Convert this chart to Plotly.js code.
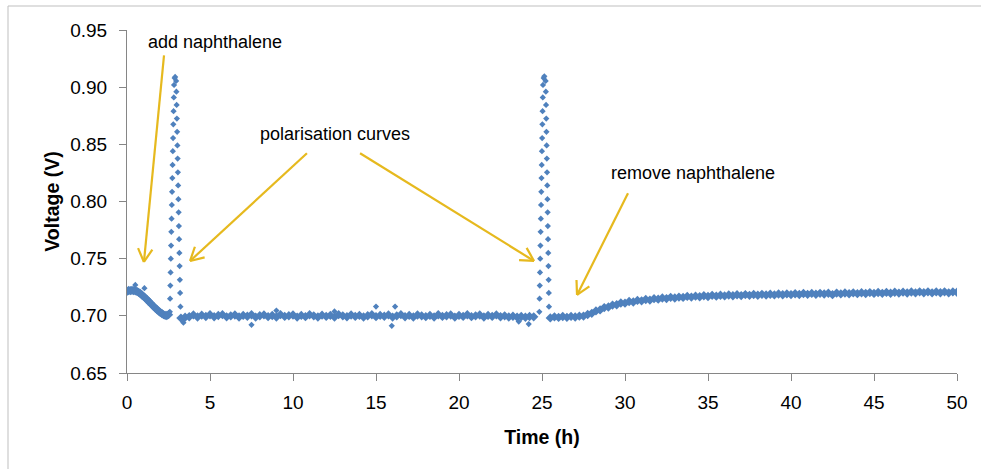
<!DOCTYPE html>
<html>
<head>
<meta charset="utf-8">
<script src="https://cdn.plot.ly/plotly-3.0.1.min.js"></script>
<style>html,body{margin:0;padding:0;background:#fff;}#chart{width:981px;height:469px;}</style>
</head>
<body>
<div id="chart"></div>
<script>
// ---- Data ----
// start of run, before the first polarisation curve
const startT = [0,0.1,0.2,0.3,0.4,0.5,0.6,0.7,0.8,0.9,1.0,1.1,1.2,1.3,1.4,1.5,1.6,1.7,1.8,1.9,2.0,2.1,2.2,2.3,2.4,2.5];
const startV = [0.7215,0.7222,0.7220,0.7223,0.7221,0.7219,0.7214,0.7205,0.7195,0.7182,0.7170,0.7157,0.7143,0.7128,0.7113,0.7098,0.7083,0.7068,0.7055,0.7042,0.7030,0.7020,0.7010,0.7004,0.7003,0.7010];

// first polarisation curve
const spike1T = [2.58,2.595,2.61,2.625,2.64,2.655,2.67,2.685,2.70,2.715,2.73,2.745,2.76,2.775,2.79,2.805,2.82,2.835,2.87,2.90,
                 2.96,2.975,2.99,3.005,3.02,3.035,3.05,3.065,3.08,3.095,3.11,3.125,3.14,3.155,3.17,3.185,3.20,3.22];
const spike1V = [0.7035,0.7150,0.7265,0.7380,0.7500,0.7615,0.7735,0.7850,0.7970,0.8085,0.8205,0.8320,0.8440,0.8555,0.8675,0.8790,0.8910,0.9020,0.9080,0.9090,
                 0.9055,0.8960,0.8845,0.8725,0.8610,0.8490,0.8375,0.8255,0.8140,0.8020,0.7905,0.7785,0.7670,0.7550,0.7435,0.7315,0.7200,0.7080];

// stable period at about 0.700 V
const midT = [3.25,3.5,3.75,4,4.25,4.5,4.75,5,5.25,5.5,5.75,6,6.25,6.5,6.75,7,7.25,7.5,7.75,8,8.25,8.5,8.75,9,9.25,9.5,9.75,10,
              10.25,10.5,10.75,11,11.25,11.5,11.75,12,12.25,12.5,12.75,13,13.25,13.5,13.75,14,14.25,14.5,14.75,15,15.25,15.5,15.75,16,
              16.25,16.5,16.75,17,17.25,17.5,17.75,18,18.25,18.5,18.75,19,19.25,19.5,19.75,20,20.25,20.5,20.75,21,21.25,21.5,21.75,22,
              22.25,22.5,22.75,23,23.25,23.5,23.75,24,24.25,24.5];
const midV = [0.6980,0.6988,0.6992,0.7008,0.6990,0.7006,0.6994,0.7009,0.6992,0.7003,
              0.7010,0.6991,0.7000,0.7007,0.6990,0.7004,0.6996,0.7009,0.6989,0.7001,
              0.7008,0.6993,0.7003,0.6990,0.7010,0.6995,0.7001,0.7007,0.6989,0.7004,
              0.6993,0.7009,0.7000,0.6990,0.7006,0.6995,0.7004,0.6989,0.7010,0.7000,
              0.6992,0.7007,0.6995,0.7004,0.6990,0.7001,0.7009,0.6993,0.7004,0.6996,
              0.7008,0.6989,0.7000,0.7010,0.6992,0.7004,0.6990,0.7007,0.7000,0.6993,
              0.7004,0.6990,0.7009,0.6995,0.7001,0.7007,0.6989,0.7004,0.6995,0.7009,
              0.6993,0.7000,0.7007,0.6990,0.7004,0.6995,0.7008,0.6992,0.7000,0.6990,
              0.6996,0.6989,0.6994,0.6988,0.6994,0.6991];

// second polarisation curve
const spike2T = [24.84,24.853,24.866,24.879,24.892,24.905,24.918,24.931,24.944,24.957,24.97,24.983,24.996,25.009,25.022,25.035,25.048,25.061,25.10,25.14,
                 25.22,25.232,25.244,25.256,25.268,25.28,25.292,25.304,25.316,25.328,25.34,25.352,25.364,25.376,25.388,25.40,25.41,25.42];
const spike2V = [0.7035,0.7150,0.7265,0.7380,0.7500,0.7615,0.7735,0.7850,0.7970,0.8085,0.8205,0.8320,0.8440,0.8555,0.8675,0.8790,0.8910,0.9020,0.9080,0.9095,
                 0.9055,0.8960,0.8845,0.8725,0.8610,0.8490,0.8375,0.8255,0.8140,0.8020,0.7905,0.7785,0.7670,0.7550,0.7435,0.7315,0.7200,0.7080];

// after the second curve: naphthalene removed, voltage recovers
const endT = [25.5,25.75,26,26.25,26.5,26.75,27,27.25,27.5,27.75,28,28.25,28.5,28.75,29,29.25,29.5,29.75,30,30.25,30.5,30.75,31,31.25,31.5,31.75,
              32,32.25,32.5,32.75,33,33.25,33.5,33.75,34,34.25,34.5,34.75,35,35.25,35.5,35.75,36,36.25,36.5,36.75,37,37.25,37.5,37.75,
              38,38.25,38.5,38.75,39,39.25,39.5,39.75,40,40.25,40.5,40.75,41,41.25,41.5,41.75,42,42.25,42.5,42.75,43,43.25,43.5,43.75,
              44,44.25,44.5,44.75,45,45.25,45.5,45.75,46,46.25,46.5,46.75,47,47.25,47.5,47.75,48,48.25,48.5,48.75,49,49.25,49.5,49.75,50];
const endV = [0.6982,0.6991,0.6986,0.6994,0.6987,0.6995,0.6990,0.6997,0.6998,0.7012,0.7022,0.7043,0.7052,0.7072,0.7077,0.7094,0.7097,0.7112,
              0.7111,0.7125,0.7121,0.7135,0.7131,0.7143,0.7138,0.7150,0.7146,0.7156,0.7151,0.7162,0.7156,0.7164,0.7161,0.7170,0.7164,0.7172,
              0.7167,0.7176,0.7169,0.7179,0.7172,0.7180,0.7174,0.7182,0.7176,0.7184,0.7177,0.7186,0.7179,0.7187,0.7180,0.7188,0.7182,0.7189,
              0.7183,0.7191,0.7184,0.7192,0.7186,0.7193,0.7187,0.7195,0.7188,0.7196,0.7189,0.7197,0.7191,0.7198,0.7185,0.7199,0.7192,0.7200,
              0.7193,0.7201,0.7194,0.7202,0.7195,0.7203,0.7196,0.7204,0.7197,0.7205,0.7198,0.7206,0.7199,0.7207,0.7200,0.7208,0.7201,0.7210,
              0.7202,0.7210,0.7201,0.7209,0.7202,0.7210,0.7201,0.7209,0.7206];

// isolated stray readings
const strayT = [0.5,1.05,3.4,7.5,9.0,12.5,15.0,15.95,16.15,23.6,24.2];
const strayV = [0.7270,0.7242,0.6940,0.6921,0.7046,0.7038,0.7081,0.6913,0.7081,0.6950,0.6928];

// annotation texts and arrows (data coordinates: tail -> tip)
const labelTexts = ["add naphthalene","polarisation curves","remove naphthalene"];
const labelX = [5.33,12.55,34.07];
const labelY = [0.9391,0.8590,0.8248];
const arrowTailX = [2.23,10.84,14.04,30.18];
const arrowTailY = [0.9278,0.8422,0.8422,0.8073];
const arrowTipX  = [1.02,3.80,24.52,27.11];
const arrowTipY  = [0.7471,0.7480,0.7480,0.7183];

// ---- Build chart ----
const bandT = [].concat(startT, midT, endT);
const bandV = [].concat(startV, midV, endV);
const dotT = [].concat(spike1T, spike2T, strayT);
const dotV = [].concat(spike1V, spike2V, strayV);

const M = {l:127, r:24, t:30, b:96};
const W = 981, H = 469;
const xr = [0,50], yr = [0.65,0.95];
const sx = (W - M.l - M.r)/(xr[1]-xr[0]);
const sy = (H - M.t - M.b)/(yr[1]-yr[0]);
const gold = '#E6B91E';
const blue = '#4F81BD';
const font = 'Liberation Sans, Arial, sans-serif';

const shapes = [];
// outer chart frame
shapes.push({type:'rect', xref:'paper', yref:'paper',
  x0:(8-M.l)/(W-M.l-M.r), x1:(995-M.l)/(W-M.l-M.r),
  y0:-0.5, y1:(H-M.b-6)/(H-M.t-M.b),
  line:{color:'#BFBFBF', width:1}, fillcolor:'rgba(0,0,0,0)', layer:'below'});

for (let i=0;i<arrowTipX.length;i++){
  const x0=arrowTailX[i], y0=arrowTailY[i], x1=arrowTipX[i], y1=arrowTipY[i];
  shapes.push({type:'line', xref:'x', yref:'y', x0:x0, y0:y0, x1:x1, y1:y1, line:{color:gold,width:2.2}});
  const dx=(x1-x0)*sx, dy=(y1-y0)*sy;
  const ang=Math.atan2(dy,dx);
  const len=15, spread=0.50;
  [ang+Math.PI-spread, ang+Math.PI+spread].forEach(a=>{
    shapes.push({type:'line', xref:'x', yref:'y', x0:x1, y0:y1,
      x1:x1+len*Math.cos(a)/sx, y1:y1+len*Math.sin(a)/sy, line:{color:gold,width:2.2}});
  });
}

const annotations = labelTexts.map((t,i)=>({
  x:labelX[i], y:labelY[i], xref:'x', yref:'y', text:t, showarrow:false,
  font:{family:font, size:18, color:'#000'}, xanchor:'center', yanchor:'middle'
}));

const traces = [
  {x: bandT, y: bandV, type:'scatter', mode:'markers',
   marker:{symbol:'diamond', size:7.2, color:blue, line:{width:0}}},
  {x: dotT, y: dotV, type:'scatter', mode:'markers',
   marker:{symbol:'diamond', size:4.8, color:blue, line:{width:0}}}
];

const axisCommon = {
  showgrid:false, zeroline:false, showline:true, linecolor:'#868686', linewidth:1,
  ticks:'outside', ticklen:7, tickcolor:'#868686', tickwidth:1,
  tickfont:{family:font, size:19, color:'#000'}
};

const layout = {
  width:W, height:H, margin:M,
  paper_bgcolor:'#fff', plot_bgcolor:'#fff', showlegend:false,
  font:{family:font},
  xaxis: Object.assign({}, axisCommon, {range:xr, dtick:5, tick0:0, ticklabelstandoff:5,
    title:{text:'<b>Time (h)</b>', font:{family:font, size:19.5, color:'#000'}, standoff:18}}),
  yaxis: Object.assign({}, axisCommon, {range:yr, dtick:0.05, tick0:0.65, tickformat:'.2f', ticklabelstandoff:8,
    title:{text:'<b>Voltage (V)</b>', font:{family:font, size:19.5, color:'#000'}, standoff:5}}),
  shapes: shapes, annotations: annotations
};

Plotly.newPlot('chart', traces, layout, {staticPlot:true, displayModeBar:false});
</script>
</body>
</html>
